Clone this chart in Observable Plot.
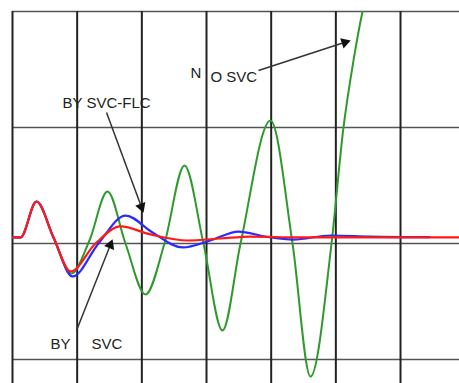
<!DOCTYPE html>
<html>
<head>
<meta charset="utf-8">
<script src="https://cdn.jsdelivr.net/npm/d3@7"></script>
<script src="https://cdn.jsdelivr.net/npm/@observablehq/plot@0.6"></script>
<style>
html,body{margin:0;padding:0;background:#fff;}
</style>
</head>
<body>
<div id="chart"></div>
<script>
// time in grid divisions, response in grid divisions
const noSvcT = [0, 0.124, 0.371, 0.634, 0.912, 1.19, 1.469, 1.747, 2.057, 2.35, 2.66, 2.953, 3.247, 3.526, 3.99, 4.33, 4.608, 4.933, 5.118, 5.273, 5.412, 5.567];
const noSvcV = [0.052, 0.052, 0.362, 0.052, -0.259, 0.026, 0.448, 0, -0.44, 0, 0.672, 0, -0.75, 0, 1.06, 0, -1.147, 0, 1.0, 1.578, 2.0, 2.35];

const flcT = [0, 0.124, 0.371, 0.634, 0.928, 1.33, 1.747, 2.165, 2.629, 3.06, 3.495, 3.91, 4.345, 4.92, 5.53, 6.45];
const flcV = [0.052, 0.052, 0.362, 0.052, -0.284, 0, 0.241, 0.095, -0.034, 0.026, 0.103, 0.06, 0.034, 0.069, 0.06, 0.055];

const svcT = [0, 0.124, 0.371, 0.634, 0.897, 1.283, 1.67, 2.134, 2.706, 3.216, 3.68, 4.45, 6.912];
const svcV = [0.052, 0.052, 0.362, 0.052, -0.241, 0, 0.147, 0.078, 0.026, 0.043, 0.06, 0.052, 0.052];

const gridX = [0, 1, 2, 3, 4, 5, 6];
const gridY = [-1, 0, 1, 2];

const labelText = ["BY SVC-FLC", "N", "O SVC", "BY", "SVC"];
const labelT = [0.773, 2.752, 3.062, 0.588, 1.222];
const labelV = [1.207, 1.466, 1.431, -0.871, -0.871];

const arrowT1 = [1.454, 3.804, 0.99];
const arrowV1 = [1.129, 1.491, -0.75];
const arrowT2 = [2.025, 5.227, 1.546];
const arrowV2 = [0.267, 1.75, 0.034];

const W = 459, H = 383, mL = 12, mR = 0, mT = 11, mB = 0;
const xDom = [0, 6.912], yDom = [-1.207, 2];
const kx = (W - mL - mR) / (xDom[1] - xDom[0]);
const ky = (H - mT - mB) / (yDom[1] - yDom[0]);

const toRows = (T, V) => T.map((t, i) => ({t, v: V[i]}));
const green = toRows(noSvcT, noSvcV);
const blue = toRows(flcT, flcV);
const red = toRows(svcT, svcV);
const labels = labelText.map((s, i) => ({s, t: labelT[i], v: labelV[i]}));
const headOff = 6;
const arrows = arrowT1.map((t1, i) => {
  const dx = (arrowT2[i] - t1) * kx, dy = -(arrowV2[i] - arrowV1[i]) * ky;
  const len = Math.hypot(dx, dy);
  const ux = dx / len, uy = dy / len;
  return {
    t1, v1: arrowV1[i],
    t2: arrowT2[i] - ux * headOff * 1.5 / kx, v2: arrowV2[i] + uy * headOff * 1.5 / ky,
    ht: arrowT2[i] - ux * headOff / kx, hv: arrowV2[i] + uy * headOff / ky,
    rot: Math.atan2(dy, dx) * 180 / Math.PI + 90
  };
});

const font = "Liberation Sans, Arial, sans-serif";
const chart = Plot.plot({
  width: W, height: H,
  marginLeft: mL, marginRight: mR, marginTop: mT, marginBottom: mB,
  x: {domain: xDom, axis: null},
  y: {domain: yDom, axis: null},
  style: {background: "#fff", fontFamily: font},
  marks: [
    Plot.ruleY(gridY, {stroke: "#555", strokeWidth: 1.5}),
    Plot.ruleX(gridX, {stroke: "#222", strokeWidth: 2}),
    Plot.line(green, {x: "t", y: "v", stroke: "#2e9a2e", strokeWidth: 2, curve: "monotone-x", clip: true}),
    Plot.line(blue, {x: "t", y: "v", stroke: "#2a2aff", strokeWidth: 2.2, curve: "monotone-x", clip: true}),
    Plot.line(red, {x: "t", y: "v", stroke: "#ff1a1a", strokeWidth: 2.2, curve: "monotone-x", clip: true}),
    Plot.link(arrows, {x1: "t1", y1: "v1", x2: "t2", y2: "v2", stroke: "#333", strokeWidth: 1.5}),
    Plot.dot(arrows, {x: "ht", y: "hv", symbol: "triangle", r: 4, fill: "#111", stroke: "none", rotate: "rot"}),
    Plot.text(labels, {x: "t", y: "v", text: "s", textAnchor: "start", fontSize: 15, fill: "#222", fontFamily: font})
  ]
});
document.getElementById("chart").appendChild(chart);
</script>
</body>
</html>
